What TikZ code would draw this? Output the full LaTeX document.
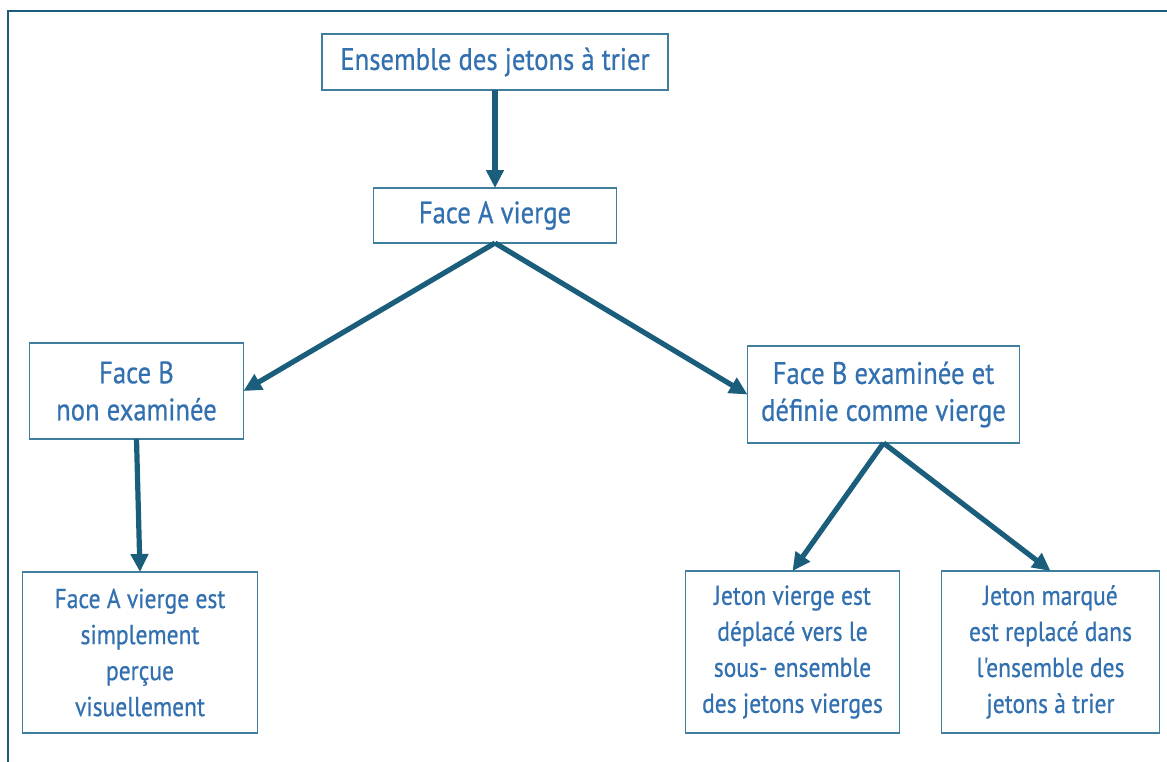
\documentclass[tikz,border=0pt]{standalone}
\usepackage{fontspec}
\setmainfont[Ligatures=TeXOff, FakeStretch=0.86, FakeBold=0.6]{PT Sans}
\usetikzlibrary{arrows.meta,positioning}
\definecolor{linecol}{HTML}{1B5E7B}
\definecolor{boxcol}{HTML}{3F7E9C}
\definecolor{txtcol}{HTML}{3370B0}

\begin{document}
\begin{tikzpicture}[
  box/.style={draw=boxcol, line width=0.8pt, align=center, text=txtcol,
    font=\fontsize{15.5}{18.5}\selectfont, inner sep=0pt, outer sep=0pt},
  leaf/.style={box, font=\fontsize{13.7}{18}\selectfont},
  ar/.style={draw=linecol, line width=2.6pt, -{Triangle[length=9pt, width=8.5pt]}}
]
\useasboundingbox (0,0) rectangle (583.5pt,-380.5pt);
\draw[linecol, line width=1pt] (4pt,-5.5pt) rectangle (600pt,-400pt);

\node[box, minimum width=173pt, minimum height=28pt] (topset) at (247.5pt,-31pt) {Ensemble des jetons à trier};
\node[box, minimum width=121.5pt, minimum height=27.5pt, below=49pt of topset] (faceA) {Face A vierge};
\node[box, minimum width=107pt, minimum height=48pt, below left=50pt and 65pt of faceA] (faceB) {Face B\\non examinée};
\node[box, minimum width=136pt, minimum height=48.5pt, below right=51.5pt and 65.5pt of faceA] (faceBex) {Face B examinée et\\définie comme vierge};
\node[leaf, minimum width=117.5pt, minimum height=80.5pt, below=66.5pt of faceB, xshift=1.75pt] (leafA) {Face A vierge est\\simplement\\perçue\\visuellement};
\node[leaf, minimum width=107pt, minimum height=81pt, below=64pt of faceBex, xshift=-45.5pt] (leafV) {Jeton vierge est\\déplacé vers le\\sous- ensemble\\des jetons vierges};
\node[leaf, minimum width=109pt, minimum height=81pt, right=21pt of leafV] (leafM) {Jeton marqué\\est replacé dans\\l'ensemble des\\jetons à trier};

\draw[ar] (topset) -- (faceA);
\draw[ar] (faceA.south) -- (faceB.east);
\draw[ar] (faceA.south) -- (faceBex.west);
\draw[ar] (faceB.south) -- (leafA.north);
\draw[ar] (faceBex.south) -- (leafV.north);
\draw[ar] (faceBex.south) -- (leafM.north);
\end{tikzpicture}
\end{document}
